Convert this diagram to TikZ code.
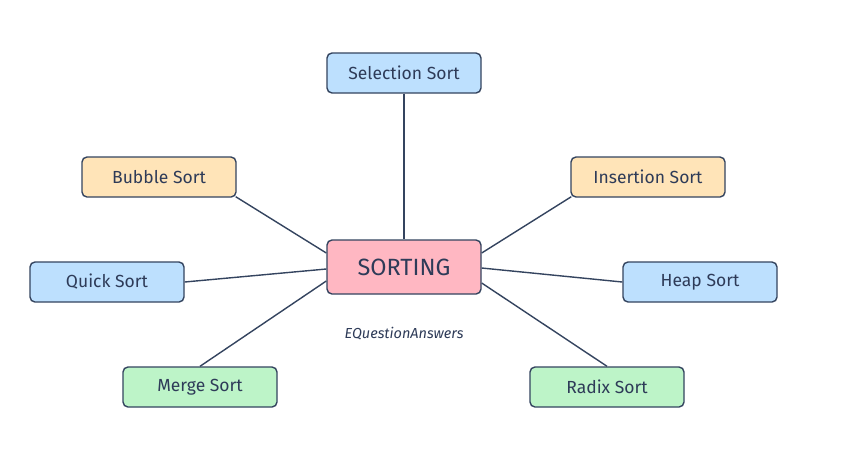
\documentclass[tikz,border=0pt]{standalone}
\usepackage{fontspec}
\setmainfont{Fira Sans}
\usetikzlibrary{calc}
\definecolor{edgec}{HTML}{34445F}
\definecolor{txtc}{HTML}{2E3B58}
\definecolor{bluef}{HTML}{BDE0FE}
\definecolor{orangef}{HTML}{FFE4B8}
\definecolor{pinkf}{HTML}{FFB7C2}
\definecolor{greenf}{HTML}{BDF4C8}
\tikzset{
  algbox/.style={draw=edgec, line width=1.4pt, rounded corners=5pt,
    minimum width=154pt, minimum height=40pt, inner sep=0pt,
    text=txtc, font=\fontsize{17.5}{20}\selectfont},
  centerbox/.style={algbox, fill=pinkf, minimum height=54pt,
    font=\fontsize{23.5}{27}\selectfont},
  link/.style={draw=edgec, line width=1.4pt}
}
\begin{document}
\begin{tikzpicture}[x=1pt,y=-1pt]
\useasboundingbox[fill=white] (0,0) rectangle (842,451);
\node[centerbox] (sort) at (404,267) {SORTING};
\node[algbox, fill=bluef] (sel) at (404,73) {Selection Sort};
\node[algbox, fill=orangef] (bub) at (159,177) {Bubble Sort};
\node[algbox, fill=orangef] (ins) at (648,177) {Insertion Sort};
\node[algbox, fill=bluef] (qui) at (107,282) {Quick Sort};
\node[algbox, fill=bluef] (hea) at (700,282) {Heap Sort};
\node[algbox, fill=greenf] (mer) at (200,387) {Merge Sort};
\node[algbox, fill=greenf] (rad) at (607,387) {Radix Sort};
\node[text=txtc, font=\fontsize{14.5}{17}\selectfont\itshape] (wm) at (404,334) {EQuestionAnswers};
\coordinate (sl1) at ($(sort.west)+(0,-14)$);
\coordinate (sl2) at ($(sort.west)+(0,2)$);
\coordinate (sl3) at ($(sort.west)+(0,14)$);
\coordinate (sr1) at ($(sort.east)+(0,-14)$);
\coordinate (sr2) at ($(sort.east)+(0,1)$);
\coordinate (sr3) at ($(sort.east)+(0,16)$);
\coordinate (bube) at ($(bub.south east)+(-1,-1)$);
\coordinate (inse) at ($(ins.south west)+(1,-1)$);
\draw[link] (sel.south) -- (sort.north);
\draw[link] (bube) -- (sl1);
\draw[link] (inse) -- (sr1);
\draw[link] (qui.east) -- (sl2);
\draw[link] (hea.west) -- (sr2);
\draw[link] (mer.north) -- (sl3);
\draw[link] (rad.north) -- (sr3);
\end{tikzpicture}
\end{document}
